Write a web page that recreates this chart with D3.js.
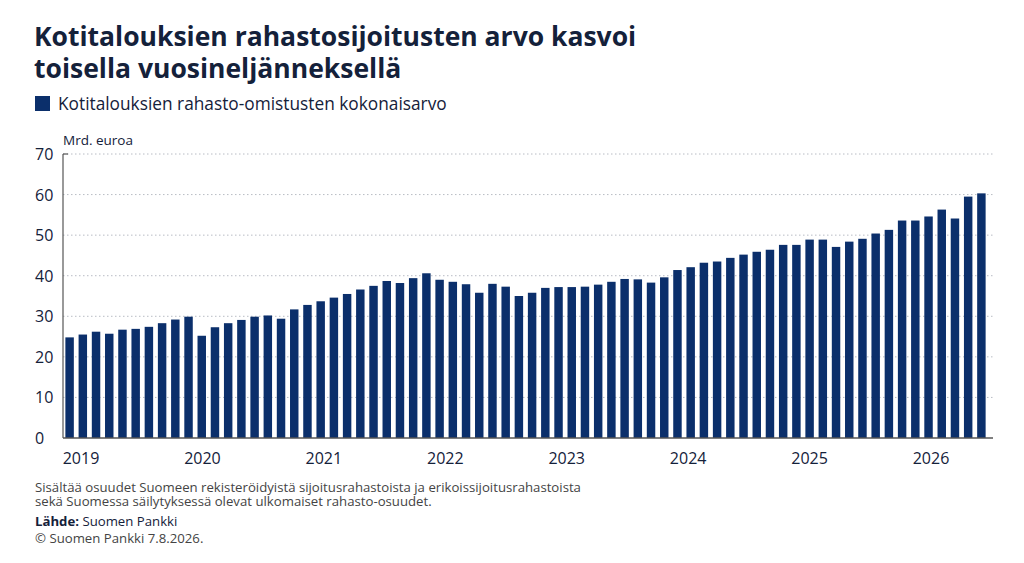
<!DOCTYPE html>
<html>
<head>
<meta charset="utf-8">
<script src="https://cdn.jsdelivr.net/npm/d3@7"></script>
<style>
  body { margin: 0; background: #fff; }
  text { font-family: "Open Sans", Lato, sans-serif; }
</style>
</head>
<body>
<script>
// Household fund holdings, bn euro
const values = [
  24.8, 25.5, 26.2, 25.7, 26.7, 26.9, 27.4, 28.3, 29.2, 29.9,
  25.2, 27.3, 28.3, 29.1, 29.9, 30.2, 29.4, 31.7, 32.8, 33.7,
  34.6, 35.5, 36.6, 37.5, 38.7, 38.2, 39.4, 40.6, 39.0, 38.5,
  37.9, 35.8, 38.0, 37.3, 35.0, 35.8, 37.0, 37.2, 37.2, 37.3,
  37.8, 38.5, 39.2, 39.1, 38.3, 39.6, 41.4, 42.1, 43.2, 43.5,
  44.4, 45.2, 45.9, 46.4, 47.6, 47.6, 48.9, 48.9, 47.1, 48.4,
  49.1, 50.4, 51.3, 53.6, 53.6, 54.6, 56.3, 54.1, 59.5, 60.3
];
const years = ["2019", "2020", "2021", "2022", "2023", "2024", "2025", "2026"];
const yTicks = [0, 10, 20, 30, 40, 50, 60, 70];

const titleLines = ["Kotitalouksien rahastosijoitusten arvo kasvoi", "toisella vuosineljänneksellä"];
const noteLines = [
  "Sisältää osuudet Suomeen rekisteröidyistä sijoitusrahastoista ja erikoissijoitusrahastoista",
  "sekä Suomessa säilytyksessä olevat ulkomaiset rahasto-osuudet."
];

const width = 1024, height = 563;
const navy = "#0b2f6b";
const ink = "#14213a";

const svg = d3.select("body").append("svg")
  .attr("width", width)
  .attr("height", height);

// title (one text, two lines)
svg.append("text")
  .attr("x", 34).attr("y", 46)
  .attr("font-size", 26.5).attr("font-weight", 700).attr("fill", ink)
  .selectAll("tspan")
  .data(titleLines)
  .join("tspan")
  .attr("x", 34)
  .attr("dy", (d, i) => i ? 32 : 0)
  .text(d => d);

// legend
svg.append("rect")
  .attr("x", 35).attr("y", 96).attr("width", 15).attr("height", 15)
  .attr("fill", navy);
svg.append("text")
  .attr("x", 58).attr("y", 110)
  .attr("font-size", 17.3).attr("fill", ink)
  .text("Kotitalouksien rahasto-omistusten kokonaisarvo");

// scales
const x = d3.scaleBand()
  .domain(d3.range(values.length))
  .range([63, 988])
  .paddingInner(0.36)
  .paddingOuter(0.18);

const y = d3.scaleLinear()
  .domain([0, 70])
  .range([438, 154]);

const xYear = d3.scalePoint()
  .domain(years)
  .range([81, 931]);

// gridlines
svg.append("g")
  .selectAll("line")
  .data(yTicks.filter(d => d > 0))
  .join("line")
  .attr("x1", 63).attr("x2", 993)
  .attr("y1", d => y(d)).attr("y2", d => y(d))
  .attr("stroke", "#b8bcc4")
  .attr("stroke-width", 1)
  .attr("stroke-dasharray", "1.5,2.5");

// y labels
svg.append("g")
  .selectAll("text")
  .data(yTicks)
  .join("text")
  .attr("x", 35)
  .attr("y", d => y(d) + 6)
  .attr("font-size", 16)
  .attr("fill", ink)
  .text(d => d);

svg.append("text")
  .attr("x", 63).attr("y", 145)
  .attr("font-size", 13.5).attr("fill", ink)
  .text("Mrd. euroa");

// bars
svg.append("g")
  .selectAll("rect")
  .data(values)
  .join("rect")
  .attr("x", (d, i) => x(i))
  .attr("y", d => y(d))
  .attr("width", x.bandwidth())
  .attr("height", d => y(0) - y(d))
  .attr("fill", navy);

// axes lines
svg.append("line")
  .attr("x1", 63).attr("x2", 63)
  .attr("y1", y(70)).attr("y2", y(0))
  .attr("stroke", "#555").attr("stroke-width", 1.2);
svg.append("line")
  .attr("x1", 63).attr("x2", 68)
  .attr("y1", y(70)).attr("y2", y(70))
  .attr("stroke", "#555").attr("stroke-width", 1.2);
svg.append("line")
  .attr("x1", 63).attr("x2", 993)
  .attr("y1", y(0)).attr("y2", y(0))
  .attr("stroke", "#555").attr("stroke-width", 1.5);

// year labels
svg.append("g")
  .selectAll("text")
  .data(years)
  .join("text")
  .attr("x", d => xYear(d))
  .attr("y", 464)
  .attr("text-anchor", "middle")
  .attr("font-size", 16)
  .attr("fill", ink)
  .text(d => d);

// footnote (one text, two lines)
svg.append("text")
  .attr("x", 35).attr("y", 492)
  .attr("font-size", 13.2).attr("fill", "#444")
  .selectAll("tspan")
  .data(noteLines)
  .join("tspan")
  .attr("x", 35)
  .attr("dy", (d, i) => i ? 14 : 0)
  .text(d => d);

const src = svg.append("text").attr("x", 35).attr("y", 526)
  .attr("font-size", 13.2).attr("fill", ink);
src.append("tspan").attr("font-weight", 700).text("Lähde:");
src.append("tspan").text(" Suomen Pankki");

svg.append("text").attr("x", 35).attr("y", 543)
  .attr("font-size", 13.2).attr("fill", "#444")
  .text("© Suomen Pankki 7.8.2026.");
</script>
</body>
</html>
